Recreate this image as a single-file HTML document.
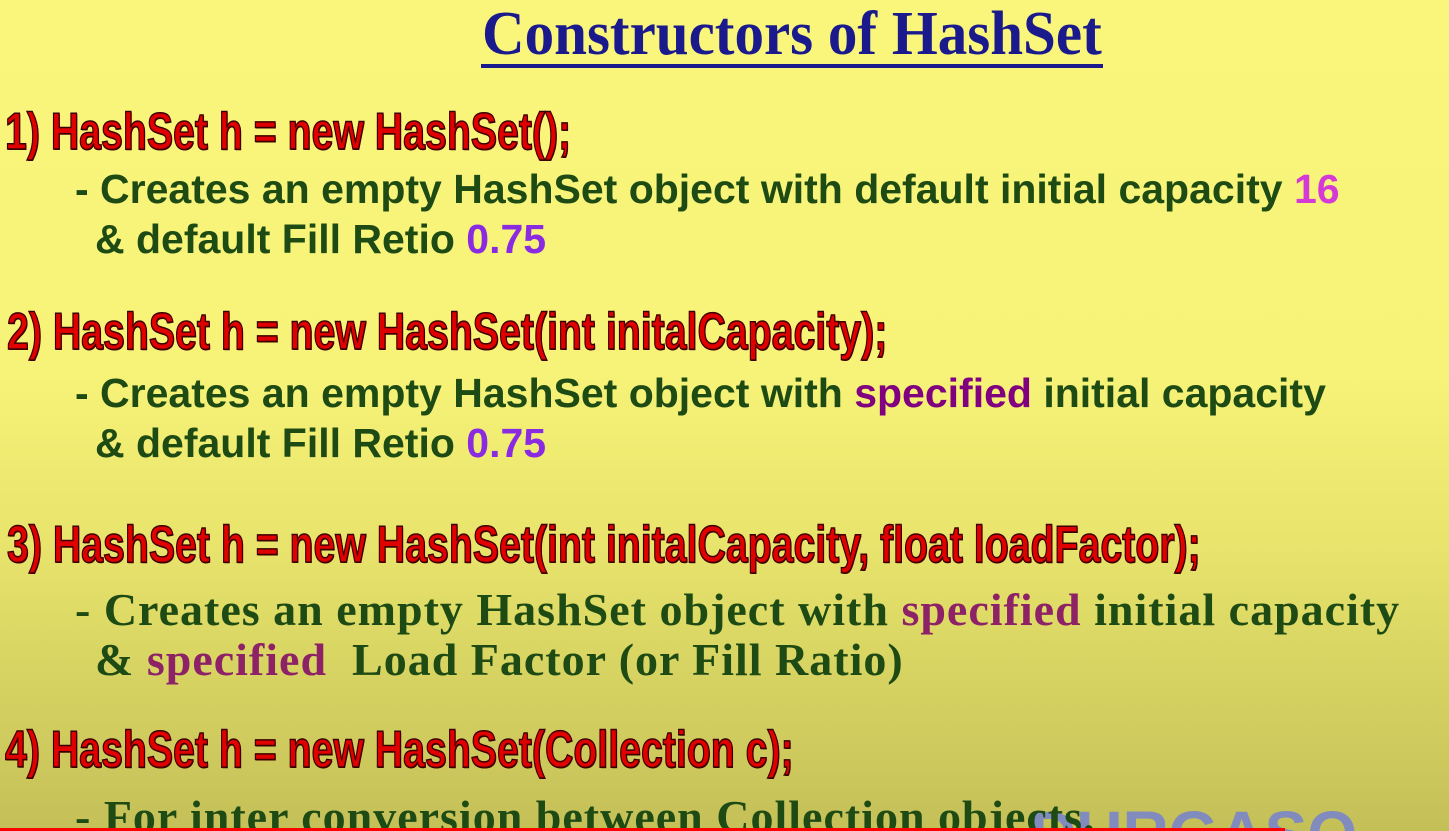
<!DOCTYPE html>
<html><head><meta charset="utf-8"><style>
html,body{margin:0;padding:0;width:1449px;height:831px;overflow:hidden}
body{position:relative;
background:linear-gradient(to bottom,#faf67c 0%,#f7f378 45%,#e8e46c 65%,#d3cf60 85%,#c4c058 100%);}
.t{position:absolute;white-space:nowrap;line-height:1}
.title{left:482px;top:-1px;font:bold 62px "Liberation Serif",serif;color:#1a1a8c;transform:scaleX(.952);transform-origin:left top;}
.ul{position:absolute;left:481px;top:64px;width:622px;height:4px;background:#1a1a8c}
.r{font:bold 52px "Liberation Sans",sans-serif;color:#e00000;-webkit-text-stroke:1.5px #3a0000;transform:scaleX(.755);transform-origin:left top;text-shadow:1px 1px 0 #400}
.g{font:bold 41px "Liberation Sans",sans-serif;color:#1e4a14}
.s{font:bold 46px "Liberation Serif",serif;color:#1e4a14;letter-spacing:1px}
.m{color:#d63ad6}.p{color:#8a2be2}.v{color:#800080}.sp{color:#8e2266}
.bar{position:absolute;left:0;top:828px;width:1285px;height:3px;background:#f00}
.wm{position:absolute;left:1030px;top:797px;font:bold 64px "Liberation Sans",sans-serif;color:#7a86c8;opacity:.9;white-space:nowrap}
</style></head><body>
<div class="t title">Constructors of HashSet</div>
<div class="ul"></div>

<div class="t r" style="left:5px;top:102px">1) HashSet h = new HashSet();</div>
<div class="t g" style="left:75px;top:166px">- Creates an empty HashSet object with default initial capacity <span class="m">16</span></div>
<div class="t g" style="left:95px;top:216px">&amp; default Fill Retio <span class="p">0.75</span></div>

<div class="t r" style="left:7px;top:302px">2) HashSet h = new HashSet(int initalCapacity);</div>
<div class="t g" style="left:75px;top:370px">- Creates an empty HashSet object with <span class="v">specified</span> initial capacity</div>
<div class="t g" style="left:95px;top:420px">&amp; default Fill Retio <span class="p">0.75</span></div>

<div class="t r" style="left:7px;top:515px">3) HashSet h = new HashSet(int initalCapacity, float loadFactor);</div>
<div class="t s" style="left:75px;top:583px">- Creates an empty HashSet object with <span class="sp">specified</span> initial capacity</div>
<div class="t s" style="left:95px;top:633px">&amp; <span class="sp">specified</span>&nbsp; Load Factor (or Fill Ratio)</div>

<div class="t r" style="left:5px;top:720px">4) HashSet h = new HashSet(Collection c);</div>
<div class="wm">DURGASO</div>
<div class="t s" style="left:75px;top:790px">- For inter conversion between Collection objects.</div>
<div class="bar"></div>
</body></html>
